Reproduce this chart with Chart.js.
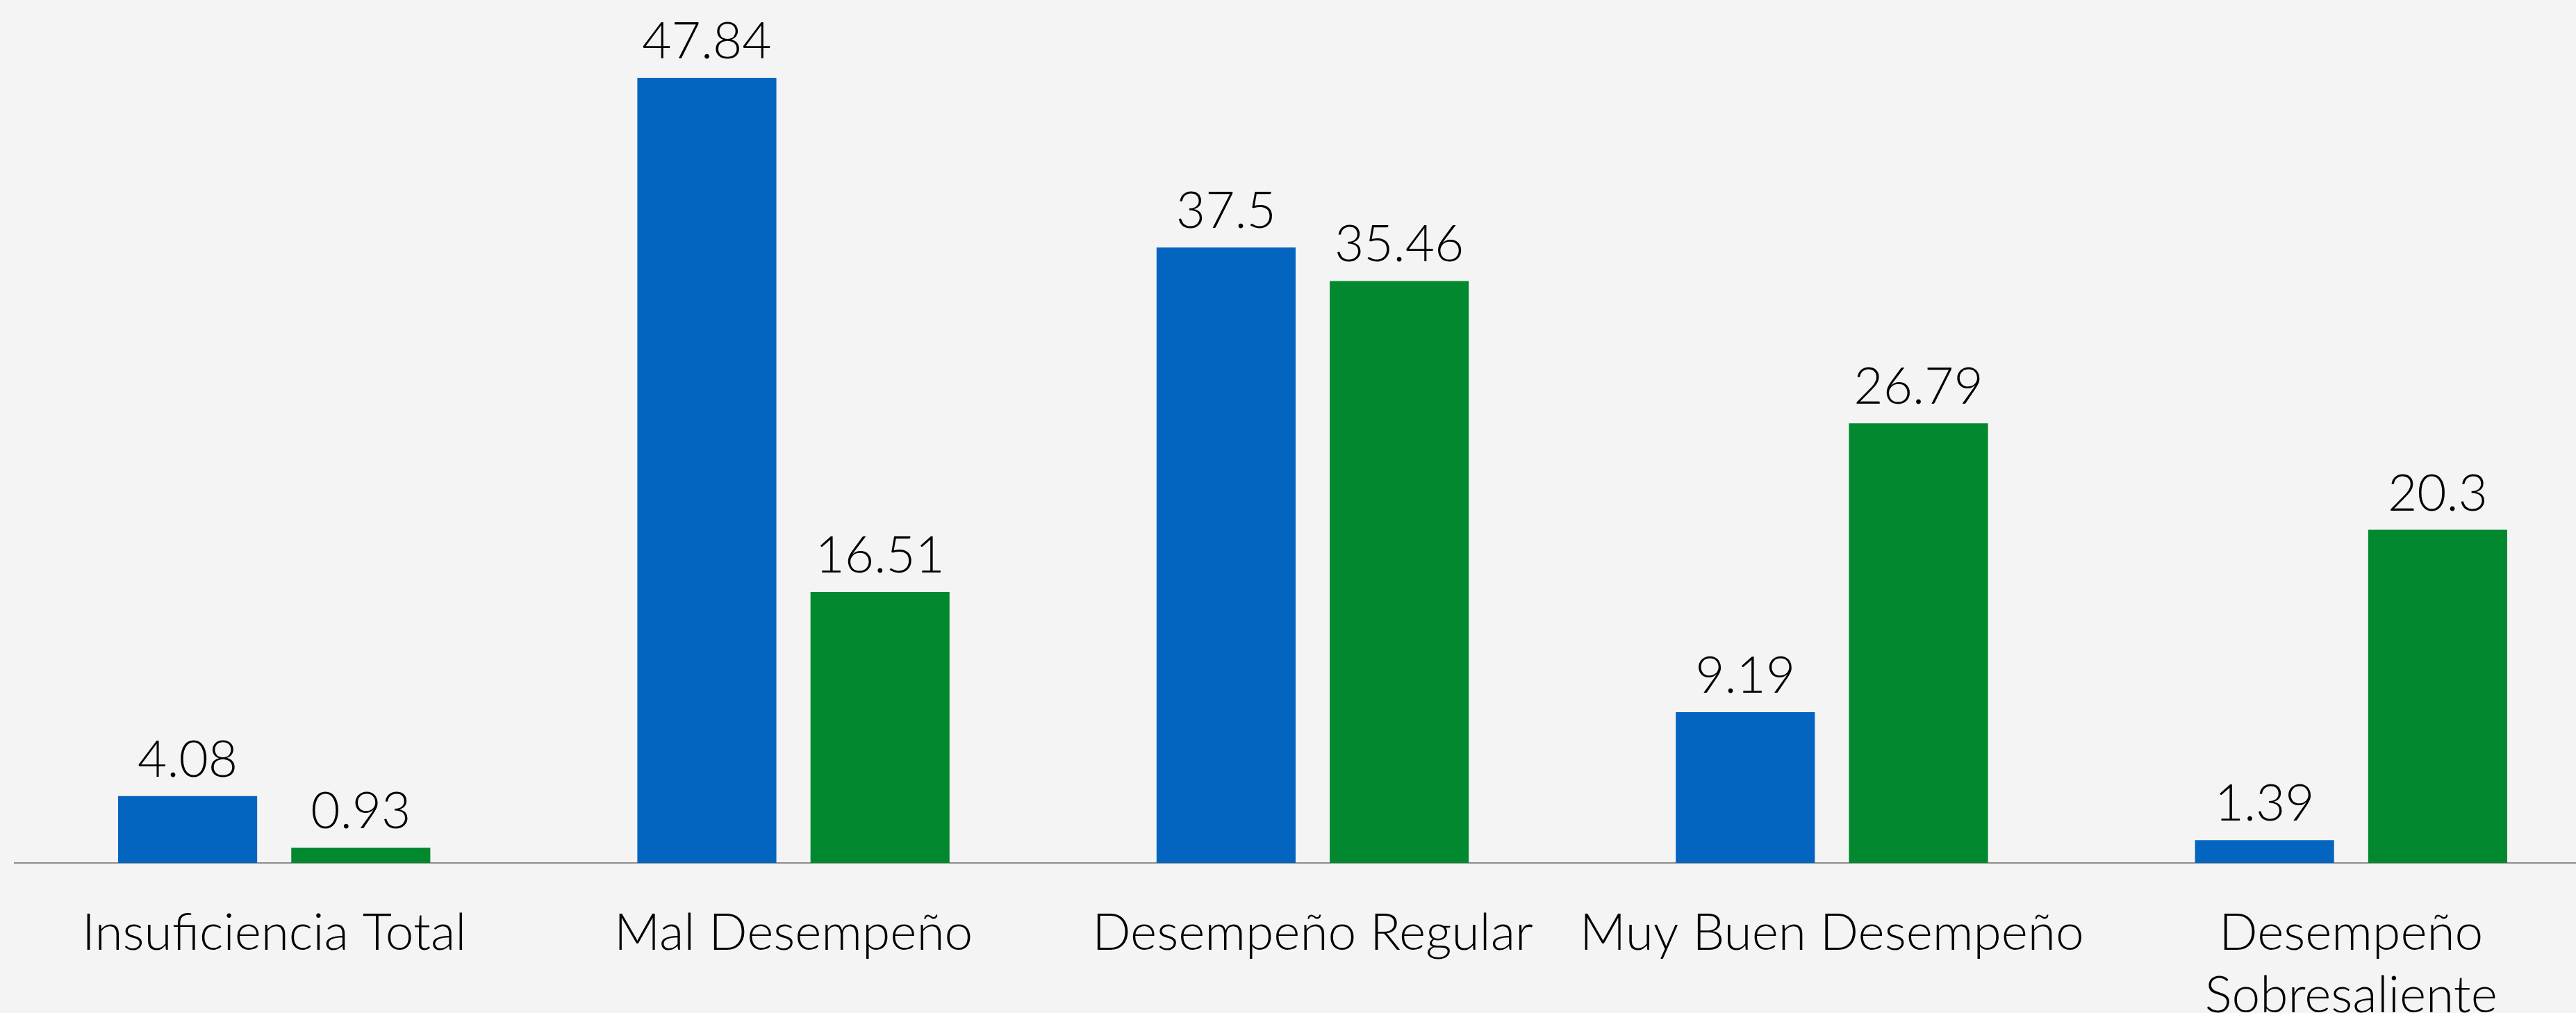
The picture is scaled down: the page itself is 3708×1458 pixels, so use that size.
<!DOCTYPE html>
<html lang="es">
<head>
  <meta charset="UTF-8" />
  <title>Desempeño</title>
  <script src="https://cdn.jsdelivr.net/npm/chart.js"></script>
  <style>
    html, body {
      margin: 0;
      padding: 0;
      background-color: #f4f4f4;
      overflow: hidden;
    }
    #wrap {
      width: 3758px;
      height: 1458px;
    }
  </style>
</head>
<body>
  <div id="wrap"><canvas id="chart"></canvas></div>
  <script>
    // categorías y valores
    const categories = [
      'Insuficiencia Total',
      'Mal Desempeño',
      'Desempeño Regular',
      'Muy Buen Desempeño',
      ['Desempeño', 'Sobresaliente']
    ];
    const serieAzul = [4.08, 47.84, 37.5, 9.19, 1.39];
    const serieVerde = [0.93, 16.51, 35.46, 26.79, 20.3];

    const fontFamily = "'Lato Light', Lato";
    const labelFont = { family: fontFamily, size: 73, weight: 300, lineHeight: 1.23 };

    // etiquetas de valor encima de cada barra
    const valueLabels = {
      id: 'valueLabels',
      afterDatasetsDraw(chart) {
        const ctx = chart.ctx;
        ctx.save();
        ctx.font = '300 73px ' + fontFamily;
        ctx.fillStyle = '#000';
        ctx.textAlign = 'center';
        ctx.textBaseline = 'alphabetic';
        chart.data.datasets.forEach((ds, i) => {
          chart.getDatasetMeta(i).data.forEach((bar, j) => {
            ctx.fillText(String(ds.data[j]), bar.x, bar.y - 28);
          });
        });
        ctx.restore();
      }
    };

    new Chart(document.getElementById('chart'), {
      type: 'bar',
      data: {
        labels: categories,
        datasets: [
          { data: serieAzul, backgroundColor: '#0465c0' },
          { data: serieVerde, backgroundColor: '#02882e' }
        ]
      },
      options: {
        responsive: true,
        maintainAspectRatio: false,
        animation: false,
        devicePixelRatio: 1,
        categoryPercentage: 0.667,
        barPercentage: 0.803,
        layout: { padding: { top: 61, left: 21, right: 0, bottom: 0 } },
        plugins: {
          legend: { display: false },
          tooltip: { enabled: false }
        },
        scales: {
          x: {
            grid: { display: false, drawTicks: false },
            border: { display: true, color: '#8c8c8c', width: 2 },
            ticks: { color: '#000', font: labelFont, padding: 57, maxRotation: 0, autoSkip: false },
            afterFit(scale) { scale.height = 216; }
          },
          y: {
            display: false,
            min: 0,
            max: 50
          }
        }
      },
      plugins: [valueLabels]
    });
  </script>
</body>
</html>
